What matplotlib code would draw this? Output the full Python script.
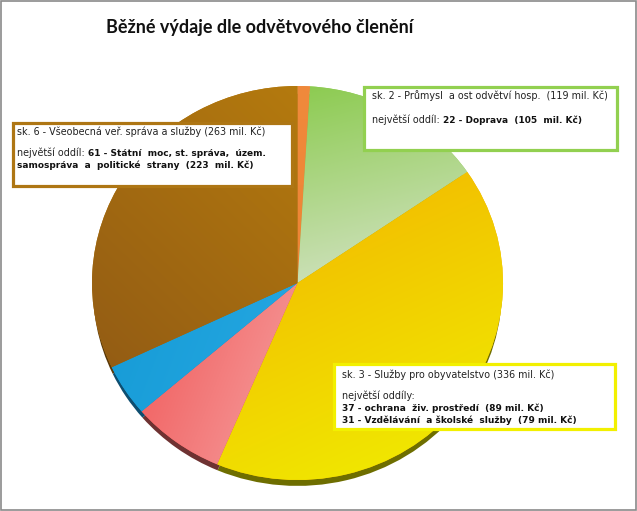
import numpy as np
import matplotlib
matplotlib.use("Agg")
import matplotlib.pyplot as plt
from matplotlib.colors import to_rgb
from matplotlib.patches import Rectangle

# data (mil. Kč), clockwise from 12 o'clock
skupiny = ["sk. 1", "sk. 2", "sk. 3", "sk. 4", "sk. 5", "sk. 6"]
vydaje = [8, 119, 336, 60, 35, 263]

# (colour at start, colour at end, gradient direction in degrees)
gradienty = [
    ("#F08A3C", "#EE8434", -90),
    ("#8CCB50", "#D8E4CC", -75),
    ("#F3B200", "#F0F000", -65),
    ("#F25858", "#F4A2A2", -20),
    ("#169BD6", "#26A8E2", -20),
    ("#B47A0E", "#935C14", 225),
]
hrany = ["#7A4418", "#4C6C2A", "#6E6E00", "#6E3232", "#0E4E70", "#5A3808"]

plt.rcParams["font.family"] = "DejaVu Sans"

fig = plt.figure(figsize=(6.37, 5.11), dpi=100)

ax = fig.add_axes([92 / 637, 31 / 511, 411 / 637, 394 / 511])


def fill_gradient(ax, patch, c1, c2, direction):
    d = np.deg2rad(direction)
    ux, uy = np.cos(d), np.sin(d)
    ext = patch.get_path().get_extents()
    corners = np.array([[ext.x0, ext.y0], [ext.x0, ext.y1],
                        [ext.x1, ext.y0], [ext.x1, ext.y1]])
    proj = corners @ np.array([ux, uy])
    xs = np.linspace(-1.05, 1.05, 300)
    X, Y = np.meshgrid(xs, xs)
    t = (X * ux + Y * uy - proj.min()) / (proj.max() - proj.min())
    t = np.clip(t, 0, 1)[..., None]
    img = (1 - t) * np.array(to_rgb(c1)) + t * np.array(to_rgb(c2))
    im = ax.imshow(img, extent=(-1.05, 1.05, -1.05, 1.05), origin="lower",
                   aspect="auto", zorder=3, interpolation="bilinear")
    im.set_clip_path(patch)


# 3D rim below the top face
ax.pie(vydaje, startangle=90, counterclock=False, colors=hrany,
       center=(0, -0.035), radius=0.995, wedgeprops={"linewidth": 0, "zorder": 1})

wedges, _ = ax.pie(vydaje, startangle=90, counterclock=False,
                   colors=[g[0] for g in gradienty],
                   wedgeprops={"linewidth": 0, "zorder": 2})
for w, (c1, c2, d) in zip(wedges, gradienty):
    fill_gradient(ax, w, c1, c2, d)

ax.set_xlim(-1, 1)
ax.set_ylim(-1, 1)
ax.set_aspect("auto")
ax.axis("off")

# overlay in pixel coordinates for title, boxes and frame
ov = fig.add_axes([0, 0, 1, 1], zorder=5)
ov.set_xlim(0, 637)
ov.set_ylim(511, 0)
ov.axis("off")
ov.patch.set_alpha(0)

ov.add_patch(Rectangle((1, 1), 635, 509, fill=False, edgecolor="#8A8A8A", lw=1.2))

ov.text(260, 28, "Běžné výdaje dle odvětvového členění", ha="center", va="center",
        fontsize=13, fontweight="bold", family="Lato", color="#111111")

fs = 6.9
fs_b = 6.45


def box(x0, y0, x1, y1, color):
    ov.add_patch(Rectangle((x0, y0), x1 - x0, y1 - y0, facecolor="white",
                           edgecolor=color, lw=2.3))


def line(x, y, normal, bold=""):
    if normal:
        t1 = ov.text(x, y, normal, fontsize=fs, va="center", ha="left", color="#222222")
        if bold:
            ov.annotate(bold, xy=(1, 0), xycoords=t1, va="bottom", ha="left",
                        fontsize=fs_b, fontweight="bold", color="#111111")
    else:
        ov.text(x, y, bold, fontsize=fs_b, fontweight="bold", va="center",
                ha="left", color="#111111")


# sk. 2
box(364, 87, 617, 150, "#92D050")
line(372, 96, "sk. 2 - Průmysl  a ost odvětví hosp.  (119 mil. Kč)")
line(372, 120, "největší oddíl: ", "22 - Doprava  (105  mil. Kč)")

# sk. 6
box(13, 123, 292, 186, "#AE7614")
line(17, 132, "sk. 6 - Všeobecná veř. správa a služby (263 mil. Kč)")
line(17, 153, "největší oddíl: ", "61 - Státní  moc, st. správa,  územ.")
line(17, 165, "", "samospráva  a  politické  strany  (223  mil. Kč)")

# sk. 3
box(334, 364, 615, 429, "#F2F000")
line(342, 375, "sk. 3 - Služby pro obyvatelstvo (336 mil. Kč)")
line(342, 396, "největší oddíly:")
line(342, 408, "", "37 - ochrana  živ. prostředí  (89 mil. Kč)")
line(342, 420, "", "31 - Vzdělávání  a školské  služby  (79 mil. Kč)")

fig.savefig("out.png", dpi=100, facecolor="white")
